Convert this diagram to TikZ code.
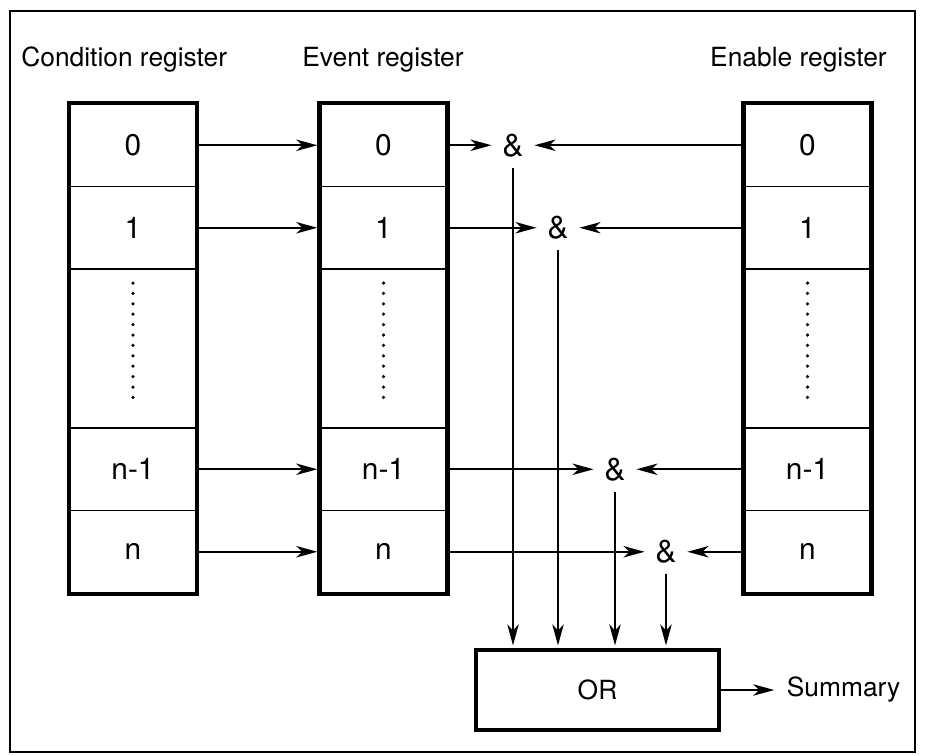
\documentclass[tikz,border=0pt]{standalone}
\usepackage{fontspec}
\setmainfont{TeX Gyre Heros}
\usepackage{tikz}
\usetikzlibrary{arrows.meta,calc}

\begin{document}
\begin{tikzpicture}[x=0.02cm, y=-0.02cm,
  font=\fontsize{15}{18}\selectfont,
  cell/.style={draw, line width=1pt, minimum width=2.52cm, minimum height=1.65cm, inner sep=0pt,
    font=\fontsize{17}{20}\selectfont},
  dotcell/.style={cell, minimum height=3.18cm},
  regbox/.style={line width=2.6pt},
  gate/.style={inner sep=6pt, font=\fontsize{18}{21}\selectfont},
  arr/.style={-{Stealth[length=12pt, width=6.5pt, inset=3.5pt]}, line width=1.1pt}]
  \useasboundingbox (0,0) rectangle (925,755);
  \draw[line width=0.7pt] (10,11) rectangle (915,752);
  % titles
  \node[anchor=base west, inner sep=0pt] (tcond) at (21,66) {Condition register};
  \node[anchor=base west, inner sep=0pt] (tev)   at (302,66) {Event register};
  \node[anchor=base east, inner sep=0pt] (ten)   at (887,66) {Enable register};
  % registers
  \foreach \reg/\x in {c/133, e/383.5, r/807.5} {
    \node[cell]    (\reg0) at (\x,145.25) {0};
    \node[cell]    (\reg1) at (\x,227.75) {1};
    \node[dotcell] (\reg2) at (\x,348.5)  {};
    \node[cell]    (\reg3) at (\x,469.25) {n-1};
    \node[cell]    (\reg4) at (\x,551.75) {n};
    \draw[regbox] (\reg0.north west) rectangle (\reg4.south east);
    \foreach \k in {0,...,11}
      \fill (\x,283+\k*10.4) circle (1pt);
  }
  % & gates
  \node[gate] (a0) at (513,0 |- e0) {\&};
  \node[gate] (a1) at (558,0 |- e1) {\&};
  \node[gate] (a3) at (615,0 |- e3) {\&};
  \node[gate] (a4) at (666,0 |- e4) {\&};
  % OR gate
  \node[draw, regbox, minimum width=4.86cm, minimum height=1.6cm] (orbox) at (597.5,690) {OR};
  \node[anchor=west, inner xsep=7pt] (sum) at ([xshift=1.06cm]orbox.east) {Summary};
  % connections
  \foreach \i in {0,1,3,4} {
    \draw[arr, shorten >=1.3pt] (c\i.east) -- (e\i.west);
    \draw[arr] (e\i.east) -- (a\i.west);
    \draw[arr] (r\i.west) -- (a\i.east);
    \draw[arr, shorten >=1.3pt] (a\i.south) -- (a\i.south |- orbox.north);
  }
  \draw[arr] (orbox.east) -- (sum.west);
\end{tikzpicture}
\end{document}
